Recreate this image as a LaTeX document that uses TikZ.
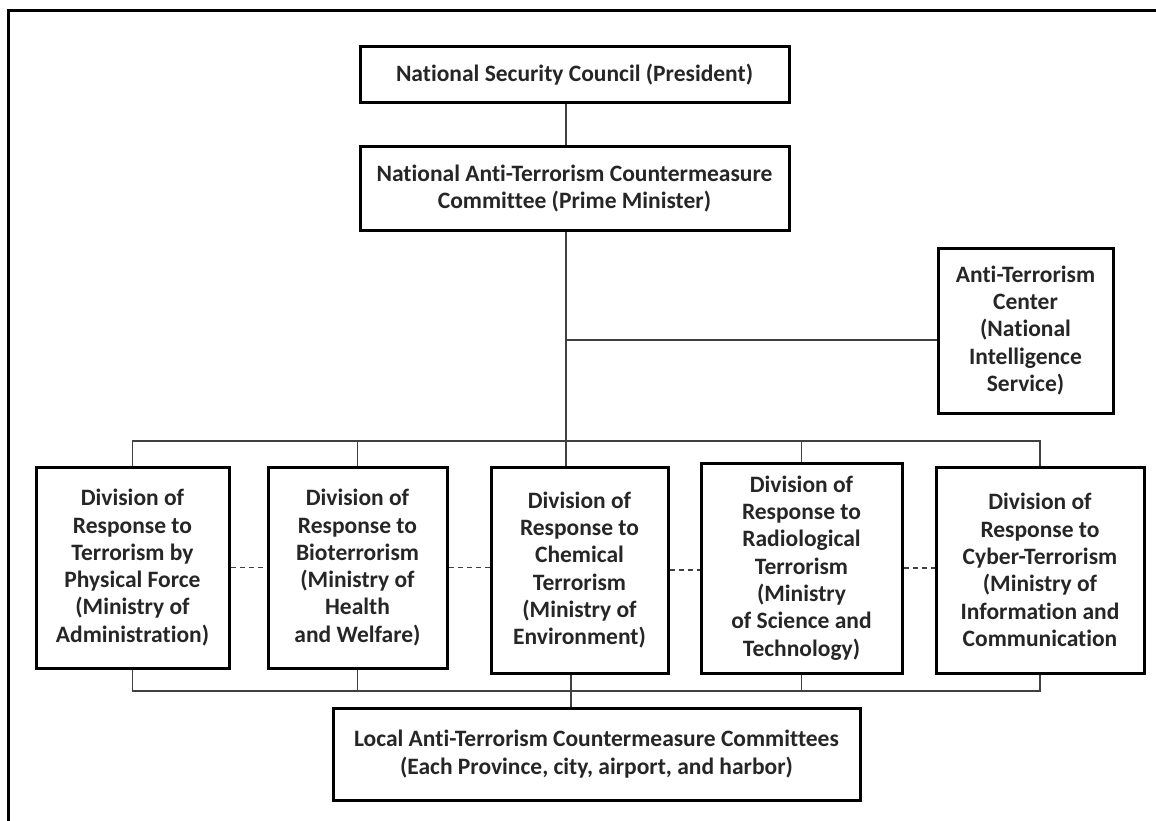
\documentclass[tikz,border=0pt]{standalone}
\usepackage{fontspec}
\setmainfont{Carlito}[Ligatures=NoCommon]
\begin{document}
\begin{tikzpicture}[x=1pt,y=-1pt,
	unit/.style={draw=black,line width=3pt,fill=white,align=center,inner sep=0pt,
		font=\fontsize{23.5}{27.3}\selectfont\bfseries,text=black!85},
	conn/.style={draw=black!75,line width=1.5pt},
	link/.style={draw=black!75,line width=1.2pt,dash pattern=on 5pt off 4pt}]
	\useasboundingbox (0,0) rectangle (1156,821);
	
	% Outer frame (only top and left edges show)
	\draw[line width=3pt] (8,840) -- (8,11) -- (1170,11);
	
	% Top level
	\node[unit,minimum width=429,minimum height=56] (nsc) at (574.5,75)
		{National Security Council (President)};
	\node[unit,minimum width=429,minimum height=83] (natc) at (574.5,188.5)
		{National Anti-Terrorism Countermeasure\\Committee (Prime Minister)};
	
	% Intelligence centre
	\node[unit,minimum width=175,minimum height=165] (atc) at (1025.5,330.5)
		{Anti-Terrorism\\Center\\(National\\Intelligence\\Service)};
	
	% Response divisions
	\node[unit,minimum width=193,minimum height=201] (divA) at (132.5,567.5)
		{Division of\\Response to\\Terrorism by\\Physical Force\\(Ministry of\\Administration)};
	\node[unit,minimum width=179,minimum height=201] (divB) at (357.5,567.5)
		{Division of\\Response to\\Bioterrorism\\(Ministry of\\Health\\and Welfare)};
	\node[unit,minimum width=177,minimum height=206] (divC) at (579.5,570)
		{Division of\\Response to\\Chemical\\Terrorism\\(Ministry of\\Environment)};
	\node[unit,minimum width=201,minimum height=210] (divD) at (801.5,568)
		{Division of\\Response to\\Radiological\\Terrorism\\(Ministry\\of Science and\\Technology)};
	\node[unit,minimum width=208,minimum height=206] (divE) at (1040,570)
		{Division of\\Response to\\Cyber-Terrorism\\(Ministry of\\Information and\\Communication};
	
	% Local committees
	\node[unit,minimum width=527,minimum height=92] (local) at (596.5,754)
		{Local Anti-Terrorism Countermeasure Committees\\(Each Province, city, airport, and harbor)};
	
	% Junction points
	\coordinate (hub) at (566,340);
	\coordinate (bus) at (566,441);
	\coordinate (lowbus) at (571,691);
	
	% Spine
	\draw[conn] (nsc.south -| hub) -- (natc.north -| hub);
	\draw[conn] (natc.south -| hub) -- (divC.north -| hub);
	\draw[conn] (hub) -- (hub -| atc.west);
	
	% Upper bus
	\draw[conn] (divA.north) -- (divA.north |- bus) -- (divE.north |- bus) -- (divE.north);
	\draw[conn] (divB.north) -- (divB.north |- bus);
	\draw[conn] (divD.north) -- (divD.north |- bus);
	
	% Lower bus
	\draw[conn] (divA.south) -- (divA.south |- lowbus) -- (divE.south |- lowbus) -- (divE.south);
	\draw[conn] (divB.south) -- (divB.south |- lowbus);
	\draw[conn] (divC.south -| lowbus) -- (local.north -| lowbus);
	\draw[conn] (divD.south) -- (divD.south |- lowbus);
	
	% Cooperation links
	\draw[link] (divA.east) -- (divA.east -| divB.west);
	\draw[link] (divB.east) -- (divB.east -| divC.west);
	\draw[link] (divC.east) -- (divC.east -| divD.west);
	\draw[link] (divD.east) -- (divD.east -| divE.west);
\end{tikzpicture}
\end{document}
